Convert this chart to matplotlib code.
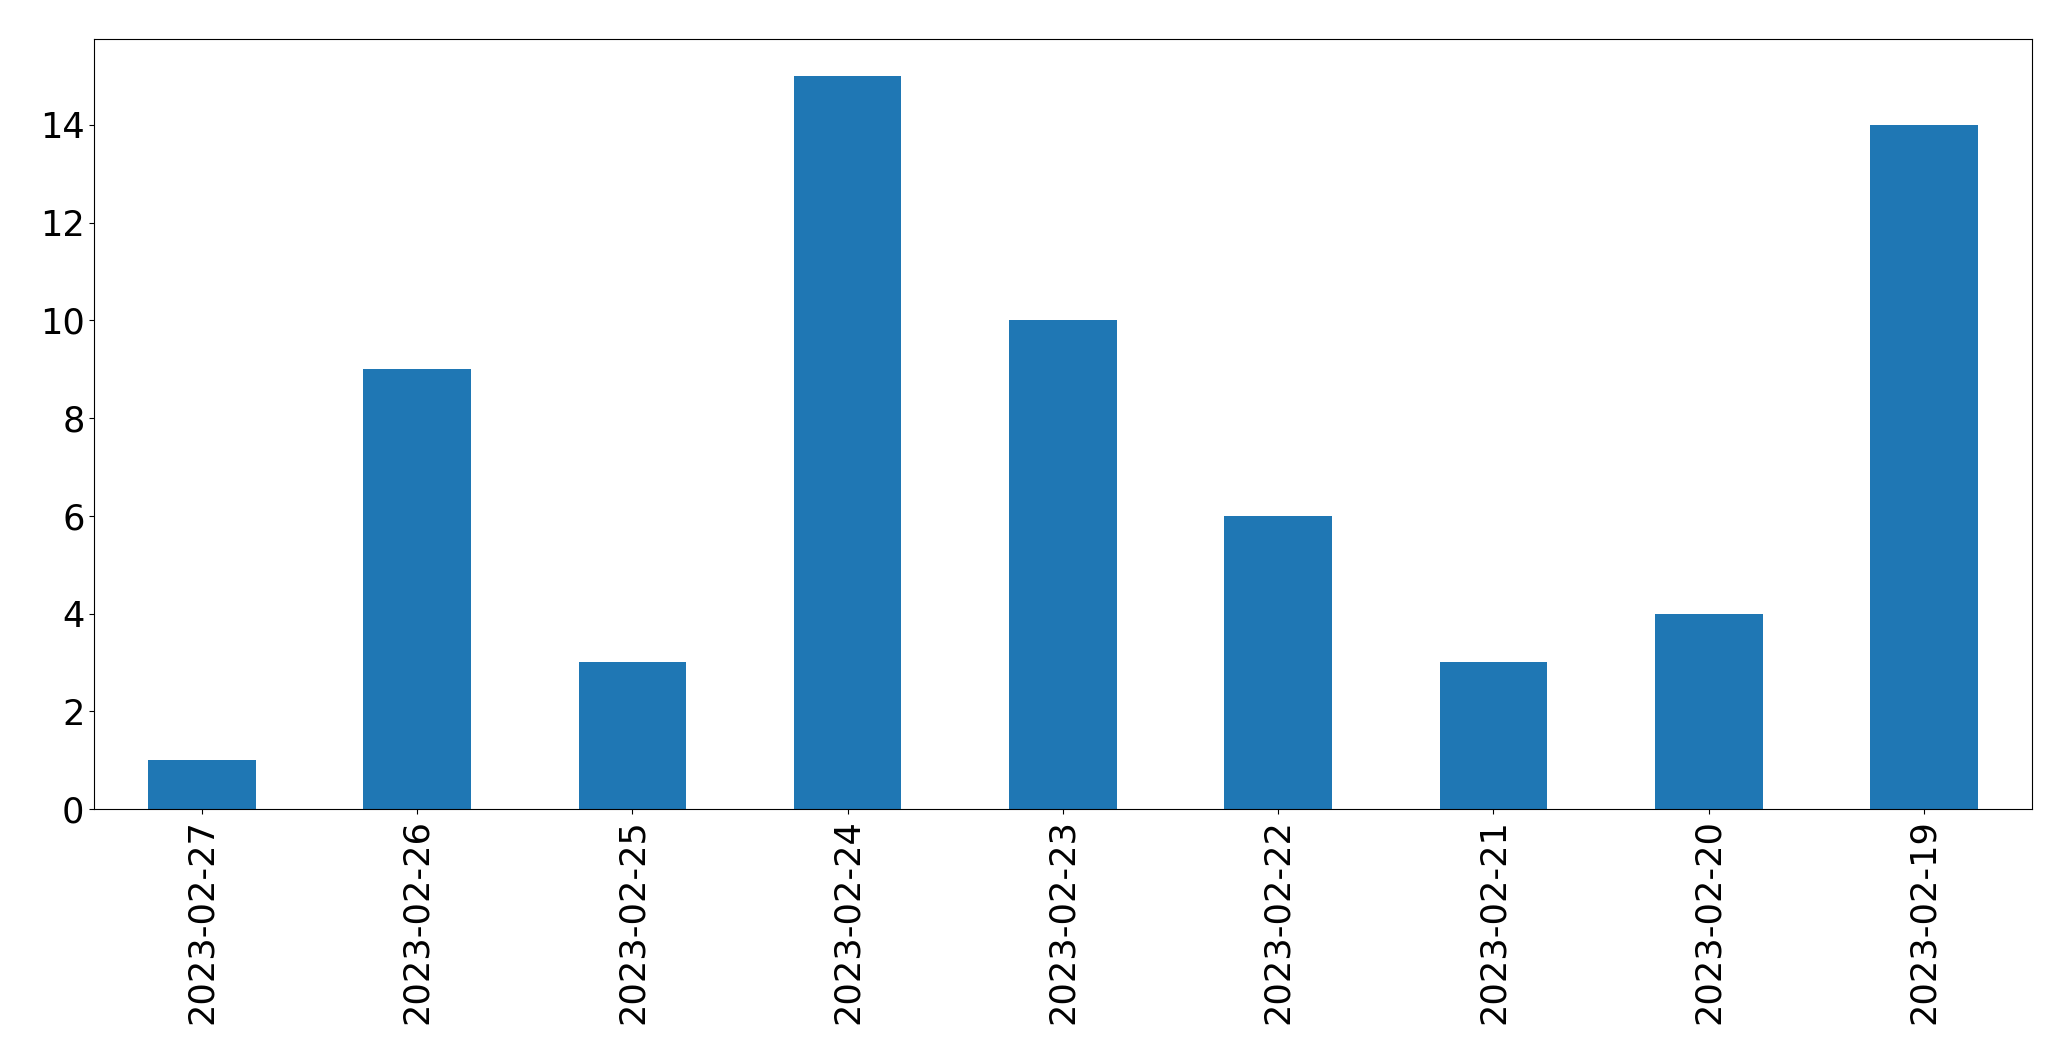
import matplotlib
matplotlib.use("Agg")
import matplotlib.pyplot as plt
import pandas as pd

dates = ['2023-02-27', '2023-02-26', '2023-02-25', '2023-02-24', '2023-02-23',
         '2023-02-22', '2023-02-21', '2023-02-20', '2023-02-19']
counts = [1, 9, 3, 15, 10, 6, 3, 4, 14]

plt.rcParams['font.size'] = 25.3

fig, ax = plt.subplots(figsize=(20.71, 10.61), dpi=100)
s = pd.Series(counts, index=dates)
s.plot(kind='bar', ax=ax, color='#1f77b4')
ax.set_xlabel('')
fig.subplots_adjust(left=0.0455, right=0.981, top=0.963, bottom=0.2375)
fig.savefig('out.png', dpi=100)
